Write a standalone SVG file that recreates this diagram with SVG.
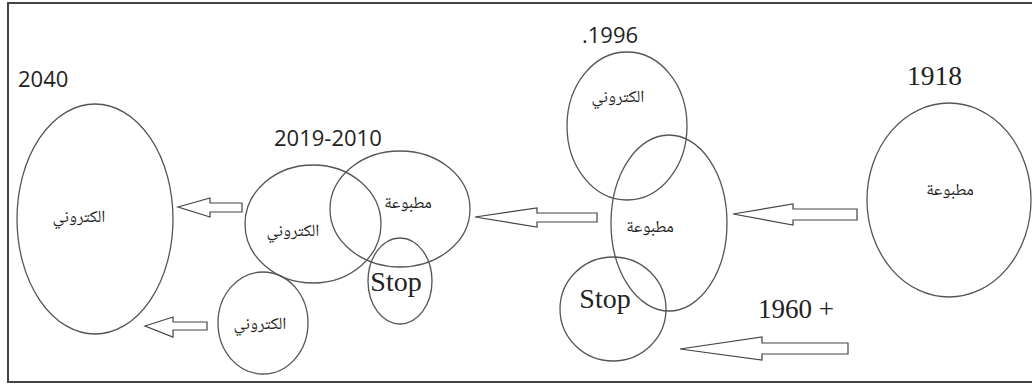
<svg xmlns="http://www.w3.org/2000/svg" width="1032" height="385" viewBox="0 0 1032 385">
<style>
ellipse{fill:none;stroke:#555;stroke-width:1.3}
.arr{fill:#fff;stroke:#444;stroke-width:1.2;stroke-linejoin:miter}
.sans{font-family:"Open Sans","Noto Sans","DejaVu Sans",sans-serif;font-size:22px;fill:#222}
.serif{font-family:"Liberation Serif","Times New Roman",serif;fill:#222}
.ar{font-family:"Noto Naskh Arabic","Noto Sans Arabic","DejaVu Sans",sans-serif;font-size:17px;fill:#222;text-anchor:middle}
</style>
<rect width="1032" height="385" fill="#fff"/>
<path d="M1032,3 H8 V382 H1032" fill="none" stroke="#444" stroke-width="2"/>

<g id="labels">
<text class="sans" x="18" y="87">2040</text>
<text class="sans" x="274" y="146">2019-2010</text>
<text class="sans" x="582" y="43">.1996</text>
<text class="serif" x="907" y="85" font-size="28" textLength="55" lengthAdjust="spacingAndGlyphs">1918</text>
<text class="serif" x="758" y="318" font-size="27" textLength="76" lengthAdjust="spacingAndGlyphs">1960 +</text>
</g>

<g id="node-2040">
<ellipse cx="95" cy="219" rx="78" ry="115"/>
<text class="ar" x="79" y="222">الكتروني</text>
</g>

<g id="node-2019-electronic">
<ellipse cx="313" cy="224" rx="68" ry="59"/>
<text class="ar" x="293" y="236">الكتروني</text>
</g>
<g id="node-2019-printed">
<ellipse cx="400" cy="209" rx="70" ry="58"/>
<text class="ar" x="408" y="208">مطبوعة</text>
</g>
<g id="node-2019-stop">
<ellipse cx="400" cy="281" rx="32" ry="43"/>
<text class="serif" x="396" y="291" font-size="28" text-anchor="middle">Stop</text>
</g>
<g id="node-2019-electronic2">
<ellipse cx="263" cy="323" rx="45" ry="51"/>
<text class="ar" x="260" y="329">الكتروني</text>
</g>

<g id="node-1996-electronic">
<ellipse cx="627" cy="126" rx="60" ry="74"/>
<text class="ar" x="618" y="102">الكتروني</text>
</g>
<g id="node-1996-printed">
<ellipse cx="669" cy="223" rx="58" ry="88"/>
<text class="ar" x="650" y="232">مطبوعة</text>
</g>
<g id="node-1996-stop">
<ellipse cx="613" cy="309" rx="53" ry="52"/>
<text class="serif" x="605" y="308" font-size="28" text-anchor="middle">Stop</text>
</g>

<g id="node-1918">
<ellipse cx="949" cy="200" rx="82" ry="97"/>
<text class="ar" x="950" y="195">مطبوعة</text>
</g>

<g id="connectors">
<polygon class="arr" points="178,207 210,198 210,203 242,203 242,212 210,212 210,217"/>
<polygon class="arr" points="145,326 173,317 173,322 207,322 207,330 173,330 173,337"/>
<polygon class="arr" points="475,217 537,208 537,213 597,213 597,222 537,222 537,227"/>
<polygon class="arr" points="733,214 793,204 793,209 857,209 857,220 793,220 793,225"/>
<polygon class="arr" points="680,349 762,337 762,343 848,343 848,354 762,354 762,360"/>
</g>
</svg>
